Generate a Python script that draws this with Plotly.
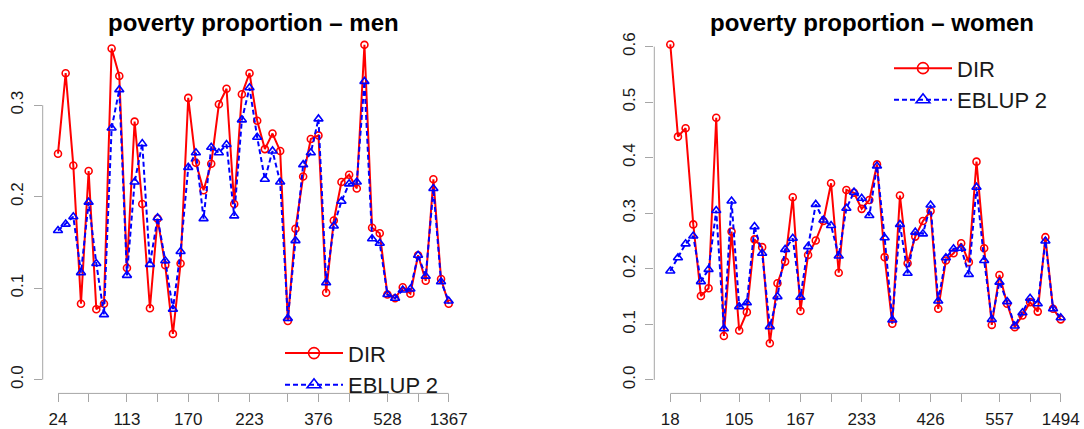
import plotly.graph_objects as go

# Areas ordered by sample size; tick positions are area indices, labels are sample sizes
tick_idx = [0, 4, 9, 13, 17, 21, 25, 30, 34, 38, 43, 47, 51]
men_ticktext = ["24", "", "113", "", "170", "", "223", "", "376", "", "528", "", "1367"]
women_ticktext = ["18", "", "105", "", "167", "", "233", "", "426", "", "557", "", "1494"]

men_dir = [0.247, 0.335, 0.234, 0.083, 0.228, 0.077, 0.083, 0.362, 0.332, 0.122,
           0.282, 0.192, 0.078, 0.176, 0.125, 0.050, 0.127, 0.308, 0.237, 0.207,
           0.236, 0.301, 0.318, 0.192, 0.312, 0.335, 0.283, 0.252, 0.269, 0.250,
           0.064, 0.165, 0.222, 0.263, 0.267, 0.095, 0.174, 0.216, 0.224, 0.209,
           0.366, 0.166, 0.160, 0.093, 0.089, 0.101, 0.094, 0.136, 0.108, 0.219,
           0.110, 0.083]
men_eblup = [0.163, 0.170, 0.178, 0.117, 0.194, 0.127, 0.071, 0.275, 0.317, 0.114,
             0.216, 0.258, 0.126, 0.177, 0.130, 0.077, 0.140, 0.232, 0.248, 0.176,
             0.254, 0.248, 0.257, 0.179, 0.284, 0.319, 0.265, 0.219, 0.250, 0.216,
             0.067, 0.152, 0.235, 0.248, 0.285, 0.106, 0.168, 0.195, 0.214, 0.216,
             0.326, 0.154, 0.149, 0.093, 0.089, 0.098, 0.099, 0.136, 0.113, 0.209,
             0.107, 0.086]
women_dir = [0.604, 0.438, 0.453, 0.280, 0.151, 0.165, 0.472, 0.079, 0.267, 0.089,
             0.122, 0.253, 0.239, 0.066, 0.174, 0.213, 0.329, 0.124, 0.225, 0.251,
             0.286, 0.354, 0.193, 0.342, 0.337, 0.308, 0.324, 0.388, 0.221, 0.101,
             0.332, 0.210, 0.258, 0.286, 0.304, 0.128, 0.215, 0.228, 0.246, 0.212,
             0.393, 0.237, 0.099, 0.189, 0.137, 0.095, 0.116, 0.140, 0.123, 0.257,
             0.128, 0.109]
women_eblup = [0.196, 0.220, 0.245, 0.259, 0.177, 0.199, 0.305, 0.092, 0.322, 0.132,
               0.139, 0.276, 0.228, 0.096, 0.150, 0.235, 0.255, 0.149, 0.240, 0.316,
               0.288, 0.278, 0.223, 0.309, 0.338, 0.327, 0.296, 0.385, 0.256, 0.108,
               0.280, 0.192, 0.266, 0.263, 0.315, 0.142, 0.220, 0.236, 0.237, 0.190,
               0.347, 0.215, 0.109, 0.176, 0.141, 0.097, 0.121, 0.147, 0.137, 0.250,
               0.128, 0.112]

men_yticks = [0.0, 0.1, 0.2, 0.3]
women_yticks = [0.0, 0.1, 0.2, 0.3, 0.4, 0.5, 0.6]

W, H = 1084, 429
FONT = "Liberation Sans, Arial, sans-serif"
AXIS_GREY = "#a6a6a6"
TEXT = "#1a1a1a"
RED, BLUE = "#ff0000", "#0000ff"


def fx(p):
    return p / W


def fy(p):
    return 1 - p / H


def dir_style(size):
    return dict(line=dict(color=RED, width=2),
                marker=dict(symbol="circle-open", size=size, color=RED,
                            line=dict(width=1.6, color=RED)))


def eblup_style(size):
    return dict(line=dict(color=BLUE, width=2, dash="5px,3px"),
                marker=dict(symbol="triangle-up-open", size=size, color=BLUE,
                            line=dict(width=1.6, color=BLUE)))


fig = go.Figure()

panels = [
    (men_dir, men_eblup, "x", "y", "legend"),
    (women_dir, women_eblup, "x2", "y2", "legend2"),
]
for d, e, xa, ya, lg in panels:
    idx = list(range(len(d)))
    fig.add_trace(go.Scatter(x=idx, y=d, xaxis=xa, yaxis=ya, name="DIR",
                             mode="lines+markers", showlegend=False, **dir_style(7)))
    fig.add_trace(go.Scatter(x=idx, y=e, xaxis=xa, yaxis=ya, name="EBLUP 2",
                             mode="lines+markers", showlegend=False, **eblup_style(8)))
    # legend keys with the larger symbols used in the key
    fig.add_trace(go.Scatter(x=[None], y=[None], xaxis=xa, yaxis=ya, name="DIR",
                             legend=lg, mode="lines+markers", **dir_style(11)))
    fig.add_trace(go.Scatter(x=[None], y=[None], xaxis=xa, yaxis=ya, name="EBLUP 2",
                             legend=lg, mode="lines+markers", **eblup_style(12)))


def xaxis_cfg(dom, rng, ticktext, anchor):
    return dict(
        domain=dom, range=rng, anchor=anchor, tickmode="array", tickvals=tick_idx,
        ticktext=ticktext, ticks="outside", ticklen=8, tickcolor=AXIS_GREY, tickwidth=1,
        showline=False, showgrid=False, zeroline=False,
        tickfont=dict(family=FONT, size=17, color=TEXT), ticklabelstandoff=2,
    )


def yaxis_cfg(dom, rng, ticks, anchor):
    return dict(
        domain=dom, range=rng, anchor=anchor, tickmode="array", tickvals=ticks,
        ticktext=[f"{t:.1f}" for t in ticks], tickangle=-90,
        ticks="outside", ticklen=8, tickcolor=AXIS_GREY, tickwidth=1,
        showline=False, showgrid=False, zeroline=False,
        tickfont=dict(family=FONT, size=17, color=TEXT), ticklabelstandoff=4,
    )


legend_common = dict(xanchor="left", yanchor="top",
                     font=dict(family=FONT, size=22, color=TEXT),
                     bgcolor="rgba(0,0,0,0)", itemwidth=58, tracegroupgap=0)

bottom_px, top_px = 399, 30
fig.update_layout(
    width=W, height=H, margin=dict(l=0, r=0, t=0, b=0),
    paper_bgcolor="white", plot_bgcolor="white",
    xaxis=xaxis_cfg([fx(42.7), fx(470)], [(42.7 - 58) / 7.661, (470 - 58) / 7.661],
                    men_ticktext, "y"),
    yaxis=yaxis_cfg([fy(bottom_px), fy(top_px)],
                    [(385 - bottom_px) / 927.7, (385 - top_px) / 927.7], men_yticks, "x"),
    xaxis2=xaxis_cfg([fx(654.3), fx(1080)], [(654.3 - 670.3) / 7.655, (1080 - 670.3) / 7.655],
                     women_ticktext, "y2"),
    yaxis2=yaxis_cfg([fy(bottom_px), fy(top_px)],
                     [(385.3 - bottom_px) / 563.3, (385.3 - top_px) / 563.3],
                     women_yticks, "x2"),
    showlegend=True,
    legend=dict(x=fx(280), y=fy(337), **legend_common),
    legend2=dict(x=fx(889), y=fy(48), **legend_common),
)

# Axis lines spanning first to last tick
for xa, ya, yt in [("x", "y", men_yticks), ("x2", "y2", women_yticks)]:
    fig.add_shape(type="line", xref=xa, yref=f"{ya} domain",
                  x0=tick_idx[0], x1=tick_idx[-1], y0=0, y1=0,
                  line=dict(color=AXIS_GREY, width=1))
    fig.add_shape(type="line", xref=f"{xa} domain", yref=ya,
                  x0=0, x1=0, y0=yt[0], y1=yt[-1],
                  line=dict(color=AXIS_GREY, width=1))

# Panel titles
for label, cx in [("poverty proportion \u2013 men", 253.5),
                  ("poverty proportion \u2013 women", 871.5)]:
    fig.add_annotation(text=f"<b>{label}</b>", xref="paper", yref="paper",
                       x=fx(cx), y=fy(23), xanchor="center", yanchor="middle",
                       showarrow=False, font=dict(family=FONT, size=24, color="black"))

fig.write_html("out.html")
